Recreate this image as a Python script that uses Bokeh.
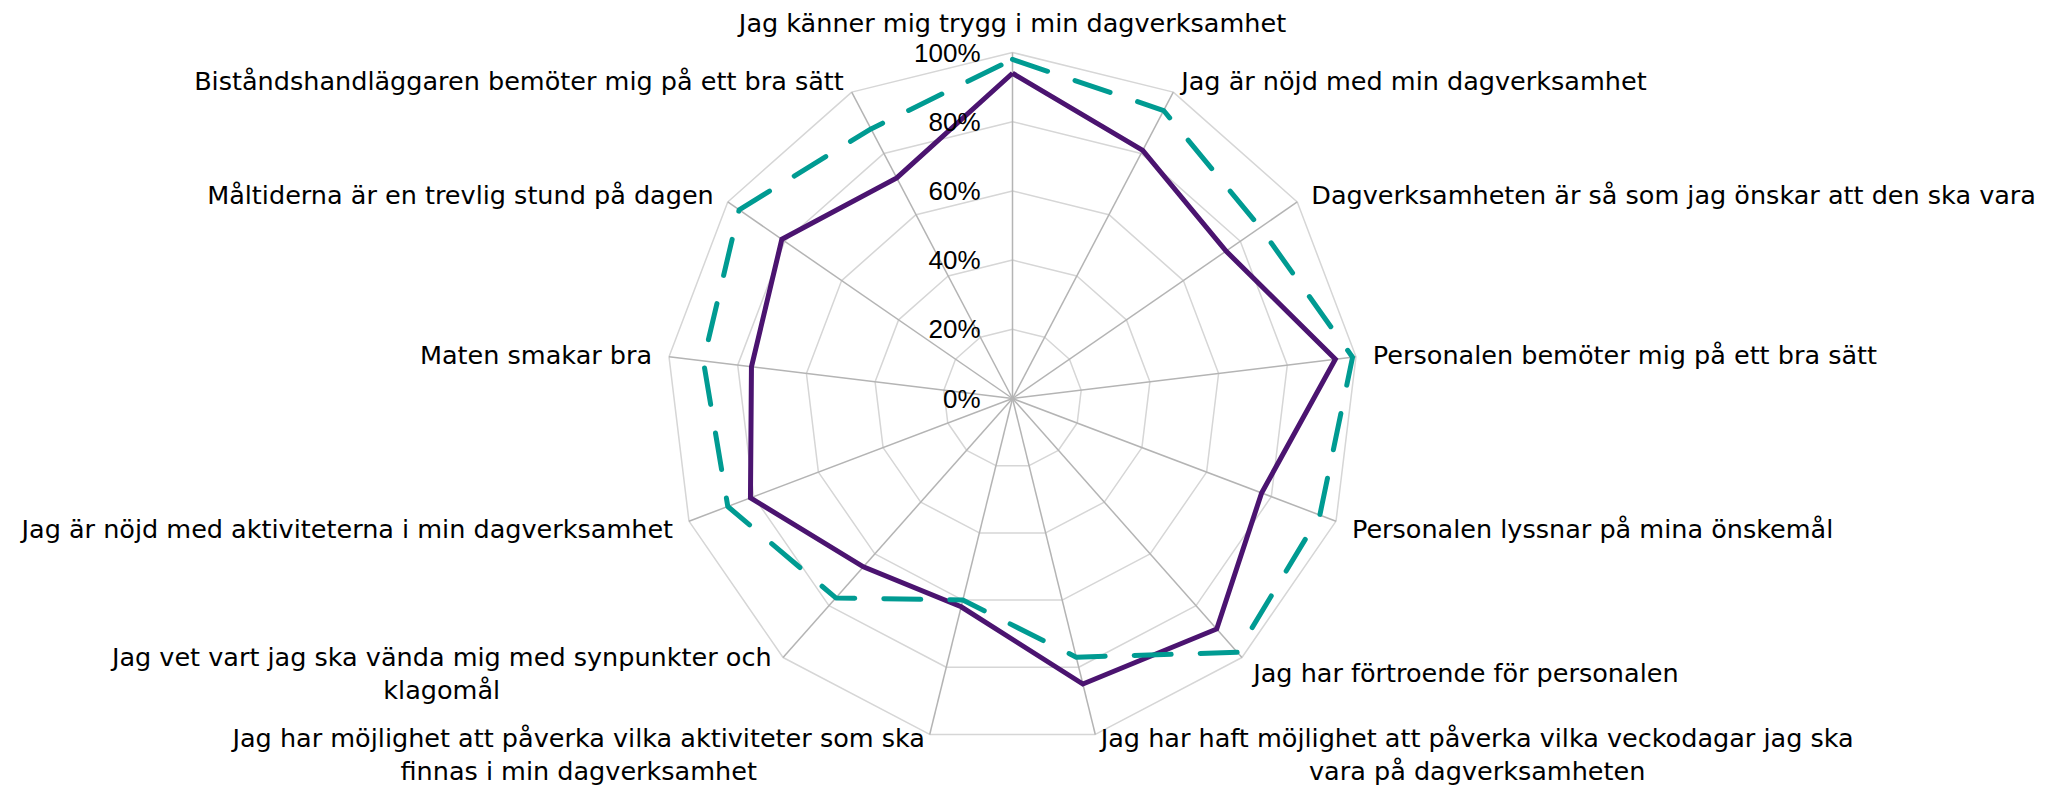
import math
from bokeh.plotting import figure
from bokeh.models import Range1d
from bokeh.embed import file_html
from bokeh.resources import INLINE
from bokeh.core.properties import value

# ---------------- data ----------------
categories = [
    "Jag känner mig trygg i min dagverksamhet",
    "Jag är nöjd med min dagverksamhet",
    "Dagverksamheten är så som jag önskar att den ska vara",
    "Personalen bemöter mig på ett bra sätt",
    "Personalen lyssnar på mina önskemål",
    "Jag har förtroende för personalen",
    "Jag har haft möjlighet att påverka vilka veckodagar jag ska\nvara på dagverksamheten",
    "Jag har möjlighet att påverka vilka aktiviteter som ska\nfinnas i min dagverksamhet",
    "Jag vet vart jag ska vända mig med synpunkter och\nklagomål",
    "Jag är nöjd med aktiviteterna i min dagverksamhet",
    "Maten smakar bra",
    "Måltiderna är en trevlig stund på dagen",
    "Biståndshandläggaren bemöter mig på ett bra sätt",
]
series_purple = [94, 81, 75, 94, 77, 89, 85, 62, 65, 81, 76, 81, 72]
series_teal = [98, 94, 87, 99, 95, 98, 77, 60, 77, 88, 90, 96, 88]
tick_values = [0, 20, 40, 60, 80, 100]
tick_labels = ["0%", "20%", "40%", "60%", "80%", "100%"]

# ---------------- layout ----------------
W, H = 2068, 786
CX, CY = 1012, 388
R = 346.0
LABEL_FONT = "DejaVu Sans"
LABEL_SIZE = 25.5
TICK_FONT = "Liberation Sans"
TICK_SIZE = 26
LINE_H = 33

PURPLE = "#4b1470"
TEAL = "#009b92"
RING = "#d6d6d6"
SPOKE = "#b4b4b4"

n = len(categories)
angles = [2 * math.pi * i / n for i in range(n)]


def pt(v, a):
    r = R * v / 100.0
    return CX + r * math.sin(a), CY + r * math.cos(a)


# DejaVu Sans advance widths (units / 2048)
_DV = {" ": 651, "a": 1255, "b": 1300, "c": 1126, "d": 1300, "e": 1260, "f": 721,
       "g": 1300, "h": 1298, "i": 569, "j": 569, "k": 1186, "l": 569, "m": 1995,
       "n": 1298, "o": 1253, "p": 1300, "q": 1300, "r": 842, "s": 1067, "t": 803,
       "u": 1298, "v": 1212, "w": 1675, "x": 1212, "y": 1212, "z": 1075, "J": 604,
       "ä": 1255, "å": 1255, "ö": 1253}


def text_w(s, size):
    return sum(_DV.get(ch, 1300) for ch in s) / 2048.0 * size


p = figure(width=W, height=H, x_range=Range1d(0, W), y_range=Range1d(0, H),
           x_axis_type=None, y_axis_type=None, toolbar_location=None,
           output_backend="svg", min_border=0, outline_line_color=None,
           background_fill_color="white", border_fill_color="white")
p.grid.visible = False

# rings
for tv in tick_values[1:]:
    xs, ys = zip(*[pt(tv, a) for a in angles + [angles[0]]])
    p.line(list(xs), list(ys), line_color=RING, line_width=1.5)

# spokes
ox, oy = zip(*[pt(100, a) for a in angles])
p.segment(x0=[CX] * n, y0=[CY] * n, x1=list(ox), y1=list(oy),
          line_color=SPOKE, line_width=1.5)

# series
px, py = zip(*[pt(v, a) for v, a in zip(series_purple + series_purple[:1], angles + angles[:1])])
p.line(list(px), list(py), line_color=PURPLE, line_width=5, line_join="miter")

tx, ty = zip(*[pt(v, a) for v, a in zip(series_teal + series_teal[:1], angles + angles[:1])])
p.line(list(tx), list(ty), line_color=TEAL, line_width=5, line_dash="37 29",
       line_cap="round", line_join="round")

# tick labels
p.text(x=[CX - 32] * len(tick_values), y=[CY + R * v / 100.0 for v in tick_values],
       text=tick_labels, text_align="right", text_baseline="middle",
       text_font=value(TICK_FONT), text_font_size=f"{TICK_SIZE}px", text_color="#000000")

# category labels
groups = {"left": ([], [], []), "right": ([], [], []), "center": ([], [], [])}
for lab, a in zip(categories, angles):
    vx, vy = pt(100, a)
    s, c = math.sin(a), math.cos(a)
    gx = 17 * abs(s)
    if abs(s) < 0.1:
        align, ax = "center", vx
    elif s > 0:
        align, ax = "left", vx + gx
    else:
        align, ax = "right", vx - gx
    if c > 0.95:
        dy = 30
    elif c > 0:
        dy = 13 * c
    else:
        dy = 21 * c
    cyb = vy + dy
    lines = lab.split("\n")
    nl = len(lines)
    if nl > 1:
        bw = max(text_w(l, LABEL_SIZE) for l in lines)
        if align == "left":
            ax = ax + bw / 2
        elif align == "right":
            ax = ax - bw / 2
        align = "center"
    for i, l in enumerate(lines):
        g = groups[align]
        g[0].append(ax)
        g[1].append(cyb + (nl - 1) / 2 * LINE_H - i * LINE_H)
        g[2].append(l)

for align, (xs, ys, ts) in groups.items():
    if not ts:
        continue
    p.text(x=xs, y=ys, text=ts, text_align=align, text_baseline="middle",
           text_font=value(LABEL_FONT), text_font_size=f"{LABEL_SIZE}px",
           text_color="#000000")

open("out.html", "w").write(file_html(p, INLINE))
